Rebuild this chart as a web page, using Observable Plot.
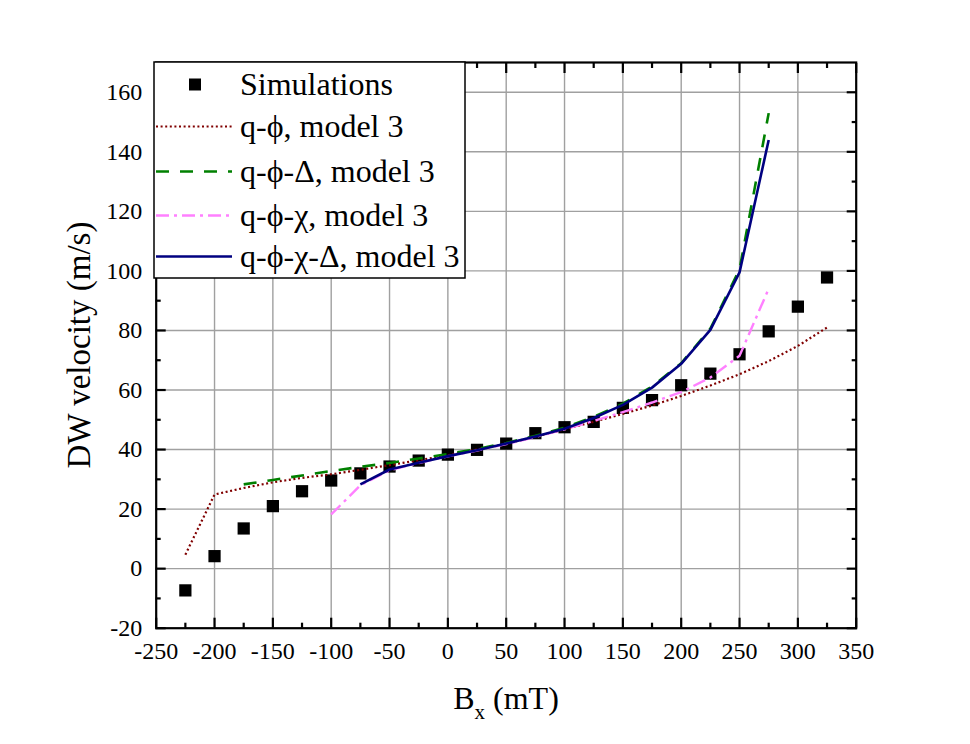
<!DOCTYPE html>
<html><head><meta charset="utf-8">
<script src="https://cdn.jsdelivr.net/npm/d3@7"></script>
<script src="https://cdn.jsdelivr.net/npm/@observablehq/plot@0.6"></script>
<style>body{margin:0;background:#fff} svg{display:block}</style>
</head><body><div id="chart"></div>
<script>
// ---- data ----
const simX = [-225,-200,-175,-150,-125,-100,-75,-50,-25,0,25,50,75,100,125,150,175,200,225,250,275,300,325];
const simY = [-7.3,4.2,13.5,21,26,29.6,32,34.3,36.3,38.3,39.9,42,45.5,47.5,49.3,54,56.6,61.6,65.5,72,79.7,88,97.8];

const qphiX = [-225,-200,-175,-150,-125,-100,-75,-50,-25,0,25,50,75,100,125,150,175,200,225,250,275,300,325];
const qphiY = [4.7,24.9,27.1,29,30.5,31.7,33.2,34.8,36.4,38.1,40,42,44.3,46.8,49.3,52,54.8,58,61.5,65.3,69.7,74.8,81];

const qphiDX = [-175,-150,-125,-100,-75,-50,-25,0,25,50,75,100,125,150,175,200,225,250,275];
const qphiDY = [28.3,29.8,31.3,32.8,34.2,35.5,37,38.5,40.2,42.2,44.6,47.3,51,55.4,61.2,69,80.6,100.5,153];

const qphiChiX = [-100,-75,-50,-25,0,25,50,75,100,125,150,175,200,225,250,275];
const qphiChiY = [18.2,28,33,35.5,37.7,39.7,41.8,44.2,46.8,49.6,52.6,55.8,59.3,64.2,71.5,94];

const qphiChiDX = [-75,-50,-25,0,25,50,75,100,125,150,175,200,225,250,275];
const qphiChiDY = [28.3,33.3,35.6,37.8,39.8,42,44.4,47,50.6,55,60.8,68.8,80.2,99.5,144];

const seriesNames = ["Simulations","q-ϕ, model 3","q-ϕ-Δ, model 3","q-ϕ-χ, model 3","q-ϕ-χ-Δ, model 3"];
const seriesColors = ["#000000","#800000","#008000","#ff80ff","#000080"];
const seriesDash = [null,"2,2.6","13,11","13,5,3,5",null];
const seriesWidth = [0,2.2,2.6,2.4,2.6];

const xMajor = [-250,-200,-150,-100,-50,0,50,100,150,200,250,300,350];
const xMinor = [-225,-175,-125,-75,-25,25,75,125,175,225,275,325];
const yMajor = [-20,0,20,40,60,80,100,120,140,160];
const yMinor = [-10,10,30,50,70,90,110,130,150];

const font = "'Liberation Serif','Times New Roman',serif";
const toRows = (xs, ys) => xs.map((x, i) => ({x, y: ys[i]}));
const lineSpec = (i, xs, ys) => Plot.line(toRows(xs, ys), {
  x: "x", y: "y", stroke: seriesColors[i], strokeWidth: seriesWidth[i],
  strokeDasharray: seriesDash[i] ?? undefined, strokeLinecap: "butt", strokeLinejoin: "round"
});
const noText = () => "";

const chart = Plot.plot({
  width: 970, height: 744,
  marginLeft: 155.7, marginRight: 114.3, marginTop: 62, marginBottom: 116.3,
  style: {fontFamily: font, fontSize: "24px", background: "white", color: "black"},
  x: {domain: [-250, 350]},
  y: {domain: [-20, 170]},
  marks: [
    Plot.gridX(xMajor.slice(1, -1), {stroke: "#a0a0a0", strokeOpacity: 1, strokeWidth: 1.4}),
    Plot.gridY(yMajor.slice(1), {stroke: "#a0a0a0", strokeOpacity: 1, strokeWidth: 1.4}),
    Plot.dot(toRows(simX, simY), {x: "x", y: "y", symbol: "square", r: 6.9, fill: "black", stroke: "none"}),
    lineSpec(1, qphiX, qphiY),
    lineSpec(2, qphiDX, qphiDY),
    lineSpec(3, qphiChiX, qphiChiY),
    lineSpec(4, qphiChiDX, qphiChiDY),
    Plot.frame({stroke: "black", strokeWidth: 2.2}),
    Plot.axisX(xMajor, {anchor: "bottom", tickSize: -10, tickPadding: 24, strokeWidth: 2.2, label: null, tickFormat: d => String(d)}),
    Plot.axisX(xMinor, {anchor: "bottom", tickSize: -5, strokeWidth: 2.2, tickFormat: noText, label: null}),
    Plot.axisX(xMajor, {anchor: "top", tickSize: -10, strokeWidth: 2.2, tickFormat: noText, label: null}),
    Plot.axisX(xMinor, {anchor: "top", tickSize: -5, strokeWidth: 2.2, tickFormat: noText, label: null}),
    Plot.axisY(yMajor, {anchor: "left", tickSize: -10, tickPadding: 24, strokeWidth: 2.2, label: null, tickFormat: d => String(d)}),
    Plot.axisY(yMinor, {anchor: "left", tickSize: -5, strokeWidth: 2.2, tickFormat: noText, label: null}),
    Plot.axisY(yMajor, {anchor: "right", tickSize: -10, strokeWidth: 2.2, tickFormat: noText, label: null}),
    Plot.axisY(yMinor, {anchor: "right", tickSize: -5, strokeWidth: 2.2, tickFormat: noText, label: null})
  ]
});
document.getElementById("chart").appendChild(chart);

const svg = d3.select(chart);
svg.selectAll("text")
  .attr("font-family", font).attr("font-size", 24)
  .style("font-family", font).style("font-size", "24px");

// ---- axis titles ----
svg.append("text")
  .attr("transform", "translate(90,345) rotate(-90)")
  .attr("text-anchor", "middle")
  .attr("font-family", font).attr("font-size", 33).attr("fill", "black")
  .text("DW velocity (m/s)");
const xt = svg.append("text")
  .attr("x", 506).attr("y", 709)
  .attr("text-anchor", "middle")
  .attr("font-family", font).attr("font-size", 32).attr("fill", "black");
xt.append("tspan").text("B");
xt.append("tspan").attr("font-size", 21).attr("dy", 10).text("x");
xt.append("tspan").attr("dy", -10).text(" (mT)");

// ---- legend ----
const lg = svg.append("g");
lg.append("rect").attr("x", 154).attr("y", 62).attr("width", 311).attr("height", 216)
  .attr("fill", "white").attr("stroke", "black").attr("stroke-width", 1.5);
const rowY = [84.5, 126.5, 171.5, 215.5, 256.5];
seriesNames.forEach((name, i) => {
  const cy = rowY[i];
  if (i === 0) {
    lg.append("rect").attr("x", 189).attr("y", cy - 6).attr("width", 12).attr("height", 12).attr("fill", "black");
  } else {
    lg.append("line").attr("x1", 156).attr("x2", 232).attr("y1", cy).attr("y2", cy)
      .attr("stroke", seriesColors[i]).attr("stroke-width", seriesWidth[i])
      .attr("stroke-dasharray", seriesDash[i]);
  }
  lg.append("text").attr("x", 240).attr("y", cy + 10.5)
    .attr("text-anchor", "start")
    .attr("font-family", font).attr("font-size", 32).attr("fill", "black")
    .text(name);
});
</script>
</body></html>
